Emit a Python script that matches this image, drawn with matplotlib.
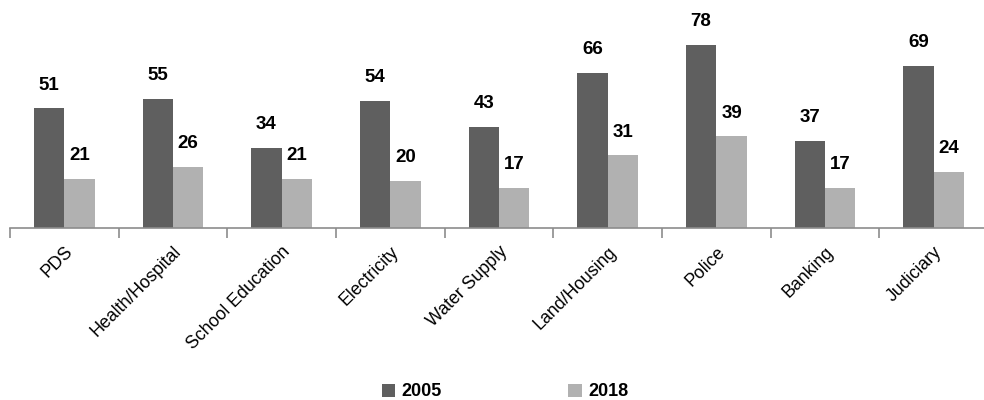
import matplotlib
matplotlib.use("Agg")
import matplotlib.pyplot as plt
import numpy as np

plt.rcParams['font.family'] = ['Liberation Sans', 'DejaVu Sans']

categories = ['PDS', 'Health/Hospital', 'School Education', 'Electricity', 'Water Supply',
              'Land/Housing', 'Police', 'Banking', 'Judiciary']
vals_2005 = [51, 55, 34, 54, 43, 66, 78, 37, 69]
vals_2018 = [21, 26, 21, 20, 17, 31, 39, 17, 24]

dark = '#5f5f5f'
light = '#b1b1b1'

fig = plt.figure(figsize=(9.84, 4.0), dpi=100)
ax = fig.add_axes([10/984, 172/400, 978/984, 228/400])

x = np.arange(len(categories))
w = 0.28
b1 = ax.bar(x - w/2, vals_2005, w, color=dark, label='2005')
b2 = ax.bar(x + w/2, vals_2018, w, color=light, label='2018')

# value labels above bars
for bars in (b1, b2):
    for r in bars:
        ax.annotate(str(int(r.get_height())), (r.get_x() + r.get_width()/2, r.get_height()),
                    xytext=(0, 10.5), textcoords='offset points', ha='center', va='bottom',
                    fontsize=13.5, fontweight='bold')

ax.set_xlim(-0.5, len(categories) - 0.5)
ax.set_ylim(0, 97)
ax.set_yticks([])
for s in ('top', 'right', 'left'):
    ax.spines[s].set_visible(False)
ax.spines['bottom'].set_color('#8c8c8c')
ax.spines['bottom'].set_linewidth(1.2)

# ticks between categories, labels at centres
ax.set_xticks(np.arange(len(categories) + 1) - 0.5, minor=False)
ax.set_xticklabels([])
ax.tick_params(axis='x', which='major', length=7, color='#8c8c8c', width=1.2)
ax.set_xticks(x, minor=True)
ax.set_xticklabels(categories, minor=True, rotation=45, ha='right', rotation_mode='anchor',
                   fontsize=12.8)
ax.tick_params(axis='x', which='minor', length=0, pad=11)

fig.legend(handles=[b1, b2], labels=['2005', '2018'], loc='center', ncol=2,
           bbox_to_anchor=(505/984, 1 - 392/400), frameon=False,
           prop={'weight': 'bold', 'size': 13}, handlelength=0.75, handleheight=0.75,
           handletextpad=0.35, columnspacing=7.0)

fig.savefig('out.png', dpi=100)
